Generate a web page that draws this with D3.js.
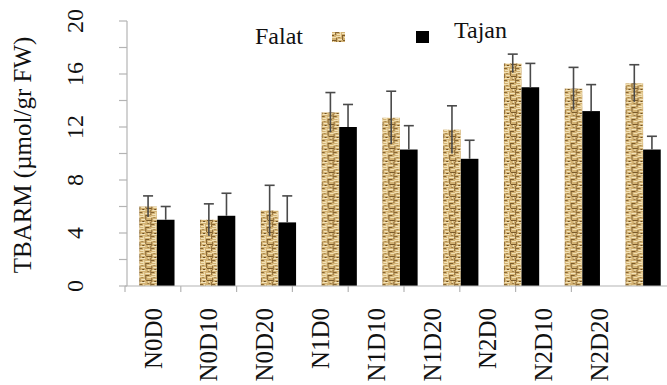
<!DOCTYPE html>
<html>
<head>
<meta charset="utf-8">
<script src="https://cdn.jsdelivr.net/npm/d3@7"></script>
<style>
  html, body { margin: 0; padding: 0; background: #fff; }
</style>
</head>
<body>
<svg id="chart" width="667" height="385"></svg>
<script>
// Treatment groups (nitrogen level x drought level)
const categories = ["N0D0", "N0D10", "N0D20", "N1D0", "N1D10", "N1D20", "N2D0", "N2D10", "N2D20"];
// Cultivar means and standard errors, µmol/gr FW
const falat    = [6.0, 5.0, 5.7, 13.1, 12.7, 11.8, 16.8, 14.9, 15.3];
const falatErr = [0.8, 1.2, 1.9, 1.5, 2.0, 1.8, 0.7, 1.6, 1.4];
const tajan    = [5.0, 5.3, 4.8, 12.0, 10.3, 9.6, 15.0, 13.2, 10.3];
const tajanErr = [1.0, 1.7, 2.0, 1.7, 1.8, 1.4, 1.8, 2.0, 1.0];
const seriesNames = ["Falat", "Tajan"];
const yTicks = [0, 4, 8, 12, 16, 20];
const yMinorTicks = [2, 6, 10, 14, 18];

const serif = "Liberation Serif";
const svg = d3.select("#chart");

// Woven straw texture for the Falat bars
const defs = svg.append("defs");
const pat = defs.append("pattern")
  .attr("id", "straw")
  .attr("patternUnits", "userSpaceOnUse")
  .attr("width", 12).attr("height", 12);
pat.append("rect").attr("width", 12).attr("height", 12).attr("fill", "#d3b273");
const weave = [
  [0, 0, 5, 1, "#f1dfb2"], [6, 0, 1, 4, "#856432"], [8, 1, 4, 1, "#f1dfb2"],
  [0, 2, 1, 4, "#8e6c38"], [2, 3, 4, 1, "#f3e4bc"], [7, 4, 5, 1, "#7a5a2a"],
  [9, 5, 1, 3, "#f1dfb2"], [1, 6, 5, 1, "#f3e4bc"], [0, 8, 3, 1, "#856432"],
  [4, 8, 1, 4, "#f1dfb2"], [6, 9, 5, 1, "#f3e4bc"], [11, 6, 1, 5, "#8e6c38"],
  [1, 10, 3, 1, "#f3e4bc"], [6, 11, 4, 1, "#7a5a2a"], [3, 5, 2, 1, "#6e5024"],
  [8, 7, 2, 1, "#9a7a44"], [2, 1, 2, 1, "#a8884f"]
];
weave.forEach(([x, y, w, h, c]) => {
  pat.append("rect").attr("x", x).attr("y", y).attr("width", w).attr("height", h).attr("fill", c);
});

const fills = { Falat: "url(#straw)", Tajan: "#000" };

// Scales
const y = d3.scaleLinear().domain([0, 20]).range([286, 21]);
const x0 = d3.scaleBand().domain(categories).range([126.5, 673.5]).paddingInner(0.42).paddingOuter(0.21);
const x1 = d3.scaleBand().domain(seriesNames).range([0, x0.bandwidth()]);
// Category axis ticks and labels sit on their own band grid
const xAxisScale = d3.scaleBand().domain(categories).range([125, 627.2]);

const axisColor = "#b4b4b4";

// Y axis line and ticks
svg.append("line")
  .attr("x1", 127).attr("x2", 127)
  .attr("y1", y(20)).attr("y2", y(0))
  .attr("stroke", axisColor).attr("stroke-width", 1.2);
svg.selectAll(".ytick")
  .data(yTicks.concat(yMinorTicks))
  .join("line")
  .attr("x1", 119).attr("x2", 127)
  .attr("y1", d => y(d)).attr("y2", d => y(d))
  .attr("stroke", axisColor).attr("stroke-width", 1.2);
svg.selectAll(".ylabel")
  .data(yTicks)
  .join("text")
  .attr("transform", d => `translate(75,${y(d)}) rotate(-90)`)
  .attr("dy", "0.35em")
  .attr("text-anchor", "middle")
  .attr("font-family", serif)
  .attr("font-size", 24)
  .attr("fill", "#111")
  .text(d => d);

// Y axis title
svg.append("text")
  .attr("transform", "translate(22,155) rotate(-90)")
  .attr("dy", "0.35em")
  .attr("text-anchor", "middle")
  .attr("font-family", serif)
  .attr("font-size", 25)
  .attr("fill", "#111")
  .text("TBARM (µmol/gr FW)");

// Bars
const groups = svg.selectAll(".grp")
  .data(categories.map((c, i) => ({
    cat: c,
    vals: [
      { s: "Falat", v: falat[i], e: falatErr[i] },
      { s: "Tajan", v: tajan[i], e: tajanErr[i] }
    ]
  })))
  .join("g")
  .attr("transform", d => `translate(${x0(d.cat)},0)`);

groups.selectAll("rect")
  .data(d => d.vals)
  .join("rect")
  .attr("x", d => x1(d.s))
  .attr("width", x1.bandwidth())
  .attr("y", d => y(d.v))
  .attr("height", d => y(0) - y(d.v))
  .attr("fill", d => fills[d.s]);

// Error bars: full range on the textured bars, upper half on the solid bars
const errColor = "#4a4a4a";
const eb = groups.selectAll(".err")
  .data(d => d.vals)
  .join("g");
eb.append("line")
  .attr("x1", d => x1(d.s) + x1.bandwidth() / 2)
  .attr("x2", d => x1(d.s) + x1.bandwidth() / 2)
  .attr("y1", d => d.s === "Falat" ? y(d.v - d.e) : y(d.v))
  .attr("y2", d => y(d.v + d.e))
  .attr("stroke", errColor).attr("stroke-width", 1.6);
eb.append("line")
  .attr("x1", d => x1(d.s) + x1.bandwidth() / 2 - 5)
  .attr("x2", d => x1(d.s) + x1.bandwidth() / 2 + 5)
  .attr("y1", d => y(d.v + d.e))
  .attr("y2", d => y(d.v + d.e))
  .attr("stroke", errColor).attr("stroke-width", 1.6);

// X axis baseline, ticks and rotated category labels
svg.append("line")
  .attr("x1", 125).attr("x2", 667)
  .attr("y1", y(0)).attr("y2", y(0))
  .attr("stroke", axisColor).attr("stroke-width", 1.2);
svg.selectAll(".xtick")
  .data(categories)
  .join("line")
  .attr("x1", d => xAxisScale(d)).attr("x2", d => xAxisScale(d))
  .attr("y1", y(0)).attr("y2", y(0) + 6)
  .attr("stroke", axisColor).attr("stroke-width", 1.2);
svg.selectAll(".xlabel")
  .data(categories)
  .join("text")
  .attr("transform", d => `translate(${xAxisScale(d) + xAxisScale.bandwidth() / 2},308) rotate(-90)`)
  .attr("dy", "0.35em")
  .attr("text-anchor", "end")
  .attr("font-family", serif)
  .attr("font-size", 25)
  .attr("fill", "#111")
  .text(d => d);

// Legend
svg.append("text").attr("x", 255).attr("y", 44)
  .attr("font-family", serif)
  .attr("font-size", 24).attr("fill", "#111").text(seriesNames[0]);
svg.append("rect").attr("x", 332).attr("y", 32).attr("width", 13).attr("height", 10)
  .attr("fill", fills.Falat);
svg.append("rect").attr("x", 416).attr("y", 31).attr("width", 13).attr("height", 12)
  .attr("fill", fills.Tajan);
svg.append("text").attr("x", 454).attr("y", 38)
  .attr("font-family", serif)
  .attr("font-size", 24).attr("fill", "#111").text(seriesNames[1]);
</script>
</body>
</html>
